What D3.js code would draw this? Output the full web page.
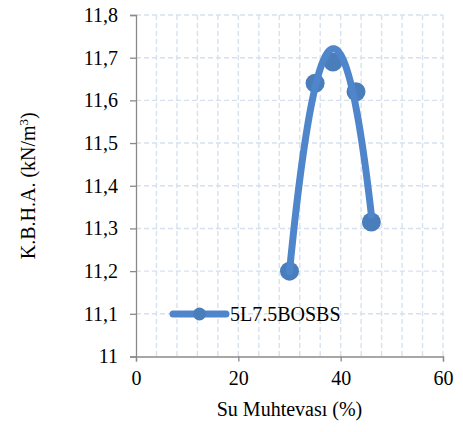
<!DOCTYPE html>
<html>
<head>
<meta charset="utf-8">
<script src="https://cdn.jsdelivr.net/npm/d3@7"></script>
<style>
html, body { margin: 0; padding: 0; background: #fff; }
#chart text { font-family: 'Liberation Serif', monospace !important; }
</style>
</head>
<body>
<svg id="chart" width="463" height="432"></svg>
<script>
// ---- data ----
const waterContent = [30, 35, 38.5, 43, 46];          // Su Muhtevası (%)
const unitWeight   = [11.2, 11.64, 11.69, 11.62, 11.315]; // K.B.H.A. (kN/m3)
const seriesName   = "5L7.5BOSBS";
const xTickValues  = [0, 20, 40, 60];
const yTickValues  = [11, 11.1, 11.2, 11.3, 11.4, 11.5, 11.6, 11.7, 11.8];
const yTickLabels  = ["11", "11,1", "11,2", "11,3", "11,4", "11,5", "11,6", "11,7", "11,8"];
const xGridValues  = [4, 8, 12, 16, 20, 24, 28, 32, 36, 40, 44, 48, 52, 56, 60];

// ---- layout ----
const FONT = "'Liberation Serif', monospace";
const svg = d3.select("#chart");
const plot = { left: 136, right: 443, top: 15, bottom: 356.5 };
const x = d3.scaleLinear().domain([0, 60]).range([plot.left, plot.right]);
const y = d3.scaleLinear().domain([11, 11.8]).range([plot.bottom, plot.top]);

const gridColor = "#d6e1f0";
const axisColor = "#8a8a8a";
const lineColor = "#4f86cb";
const markerColor = "#4a7ebb";

// gridlines
svg.append("g").selectAll("line.h").data(yTickValues.filter(v => v > 11)).join("line")
  .attr("x1", plot.left).attr("x2", plot.right)
  .attr("y1", d => y(d)).attr("y2", d => y(d))
  .attr("stroke", gridColor).attr("stroke-width", 1.4).attr("stroke-dasharray", "5,3");
svg.append("g").selectAll("line.v").data(xGridValues).join("line")
  .attr("x1", d => x(d)).attr("x2", d => x(d))
  .attr("y1", plot.top).attr("y2", plot.bottom)
  .attr("stroke", gridColor).attr("stroke-width", 1.4).attr("stroke-dasharray", "5,3");

// axes
const yAxis = d3.axisLeft(y).tickValues(yTickValues).tickSize(6).tickPadding(12)
  .tickFormat((d, i) => yTickLabels[i]);
const gy = svg.append("g").attr("transform", `translate(${plot.left},0)`).call(yAxis);
const xAxis = d3.axisBottom(x).tickValues(xTickValues).tickSize(5).tickPadding(9)
  .tickFormat(d3.format("d"));
const gx = svg.append("g").attr("transform", `translate(0,${plot.bottom})`).call(xAxis);
[gx, gy].forEach(g => {
  g.attr("font-family", FONT).attr("font-size", 20);
  g.select(".domain").attr("stroke", axisColor).attr("stroke-width", 1.3);
  g.selectAll(".tick line").attr("stroke", axisColor).attr("stroke-width", 1.3);
  g.selectAll(".tick text").attr("fill", "#000")
    .attr("font-family", FONT).attr("font-size", 20);
});

// axis titles
svg.append("text")
  .attr("x", (plot.left + plot.right) / 2).attr("y", 416)
  .attr("text-anchor", "middle")
  .attr("font-family", FONT).attr("font-size", 20)
  .text("Su Muhtevası (%)");
const yt = svg.append("text")
  .attr("transform", `translate(35,${(plot.top + plot.bottom) / 2}) rotate(-90)`)
  .attr("text-anchor", "middle")
  .attr("font-family", FONT).attr("font-size", 20);
yt.append("tspan").text("K.B.H.A. (kN/m");
yt.append("tspan").attr("dy", -7).attr("font-size", 13).text("3");
yt.append("tspan").attr("dy", 7).text(")");

// markers
const pts = waterContent.map((d, i) => ({ x: d, y: unitWeight[i] }));
svg.append("g").selectAll("circle").data(pts).join("circle")
  .attr("cx", d => x(d.x)).attr("cy", d => y(d.y)).attr("r", 9.5)
  .attr("fill", markerColor);

// 2nd-order polynomial trendline (least squares fit of the data, like the spreadsheet's trendline)
function polyfit2(xs, ys) {
  const n = xs.length;
  let s = [0, 0, 0, 0, 0], t = [0, 0, 0];
  for (let i = 0; i < n; i++) {
    let p = 1;
    for (let k = 0; k <= 4; k++) { s[k] += p; if (k <= 2) t[k] += p * ys[i]; p *= xs[i]; }
  }
  const M = [[s[0], s[1], s[2], t[0]], [s[1], s[2], s[3], t[1]], [s[2], s[3], s[4], t[2]]];
  for (let c = 0; c < 3; c++) {
    for (let r = c + 1; r < 3; r++) {
      const f = M[r][c] / M[c][c];
      for (let k = c; k < 4; k++) M[r][k] -= f * M[c][k];
    }
  }
  const coef = [0, 0, 0];
  for (let r = 2; r >= 0; r--) {
    let v = M[r][3];
    for (let k = r + 1; k < 3; k++) v -= M[r][k] * coef[k];
    coef[r] = v / M[r][r];
  }
  return xv => coef[0] + coef[1] * xv + coef[2] * xv * xv;
}
const trend = polyfit2(waterContent, unitWeight);
const [xmin, xmax] = d3.extent(waterContent);
const trendPts = d3.range(0, 101).map(i => {
  const xv = xmin + (xmax - xmin) * i / 100;
  return { x: xv, y: trend(xv) };
});
svg.append("path").datum(trendPts)
  .attr("d", d3.line().x(d => x(d.x)).y(d => y(d.y)).curve(d3.curveLinear))
  .attr("fill", "none").attr("stroke", lineColor).attr("stroke-width", 7)
  .attr("stroke-linecap", "round").attr("stroke-linejoin", "round");

// legend
const lg = svg.append("g").attr("transform", "translate(0,314)");
lg.append("line").attr("x1", 173).attr("x2", 226).attr("y1", 0).attr("y2", 0)
  .attr("stroke", lineColor).attr("stroke-width", 7).attr("stroke-linecap", "round");
lg.append("circle").attr("cx", 199.5).attr("cy", 0).attr("r", 6.5).attr("fill", markerColor);
lg.append("text").attr("x", 230).attr("y", 7)
  .attr("font-family", FONT).attr("font-size", 20)
  .text(seriesName);
</script>
</body>
</html>
